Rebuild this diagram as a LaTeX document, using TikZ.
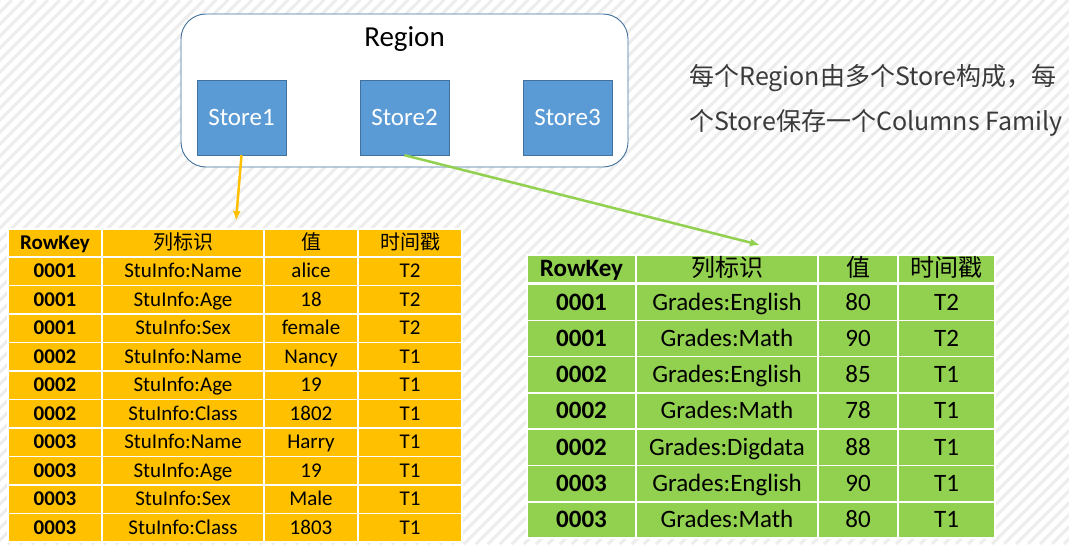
\documentclass[tikz,border=0pt]{standalone}
\usepackage{fontspec}
\setmainfont{Carlito}
\newfontfamily\cjk{Noto Sans CJK SC}
\usepackage{tikz}
\usetikzlibrary{positioning,arrows.meta}
\definecolor{gold}{HTML}{FFC000}
\definecolor{leaf}{HTML}{92D050}
\definecolor{steel}{HTML}{5B9BD5}
\definecolor{steeledge}{HTML}{41719C}
\definecolor{hatch}{HTML}{EDEDED}
\definecolor{note}{HTML}{3A3A3A}
\newcommand{\fs}[1]{\fontsize{#1}{#1}\selectfont}

\begin{document}
\begin{tikzpicture}[x=1pt,y=-1pt]
\tikzstyle{store}=[rectangle, minimum width=89pt, minimum height=75pt, draw=steeledge, fill=steel, text=white, font=\fs{25}]
\tikzstyle{region}=[rectangle, rounded corners=25pt, minimum width=447pt, minimum height=153pt, draw=steeledge, line width=0.9pt, fill=white]
\tikzstyle{cella}=[rectangle, draw=white, line width=1.5pt, fill=gold, inner sep=0pt, minimum height=28.5pt, text height=14.5pt, text depth=1.3pt, font=\fs{21}]
\tikzstyle{cellb}=[rectangle, draw=white, line width=1.5pt, fill=leaf, inner sep=0pt, minimum height=36.3pt, text height=17.3pt, text depth=1.5pt, font=\fs{25}]
\tikzstyle{connect}=[-{Latex[length=10pt,width=8pt]}, line width=2.5pt]
\useasboundingbox (0,0) rectangle (1069,544);
\begin{scope}
\clip (0,0) rectangle (1069,544);
\fill[white] (0,0) rectangle (1069,544);
\foreach \k in {0,12,...,1620}
  \draw[hatch, line width=3pt] (\k,0) -- (\k-544,544);
\end{scope}

\node[region] (region) at (404.5,90.5) {};
\node[font=\fs{29}] (regiontitle) at (404.5,39) {Region};
\node[store] (store1) at (241.5,117.5) {Store1};
\node[store] (store2) at (404.5,117.5) {Store2};
\node[store] (store3) at (567.5,117.5) {Store3};

\node[anchor=west, text=note, font=\cjk\fs{25}] (note1) at (686,78) {每个Region由多个Store构成，每};
\node[anchor=west, text=note, font=\cjk\fs{25}] (note2) at (686,123) {个Store保存一个Columns Family};

% left table (StuInfo)
\node[cella, minimum width=94pt, minimum height=28pt, font=\fs{21}\bfseries] (a01) at (55,243) {RowKey};
\node[cella, minimum width=162pt, minimum height=28pt, font=\cjk\fs{20}] (a02) at (183,243) {列标识};
\node[cella, minimum width=94pt, minimum height=28pt, font=\cjk\fs{20}] (a03) at (311,243) {值};
\node[cella, minimum width=104pt, minimum height=28pt, font=\cjk\fs{20}] (a04) at (410,243) {时间戳};
\foreach \key/\col/\val/\ts [count=\r] in {0001/StuInfo:Name/alice/T2, 0001/StuInfo:Age/18/T2, 0001/StuInfo:Sex/female/T2, 0002/StuInfo:Name/Nancy/T1, 0002/StuInfo:Age/19/T1, 0002/StuInfo:Class/1802/T1, 0003/StuInfo:Name/Harry/T1, 0003/StuInfo:Age/19/T1, 0003/StuInfo:Sex/Male/T1, 0003/StuInfo:Class/1803/T1}{
  \node[cella, minimum width=94pt, font=\fs{21}\bfseries] (a\r1) at (55,{242.75+28.5*\r}) {\key};
  \node[cella, minimum width=162pt] (a\r2) at (183,{242.75+28.5*\r}) {\col};
  \node[cella, minimum width=94pt] (a\r3) at (311,{242.75+28.5*\r}) {\val};
  \node[cella, minimum width=104pt] (a\r4) at (410,{242.75+28.5*\r}) {\ts};
}

% right table (Grades)
\node[cellb, minimum width=109pt, minimum height=28pt, font=\fs{25}\bfseries] (b01) at (581.5,269) {RowKey};
\node[cellb, minimum width=182pt, minimum height=28pt, font=\cjk\fs{24}] (b02) at (727,269) {列标识};
\node[cellb, minimum width=80pt, minimum height=28pt, font=\cjk\fs{24}] (b03) at (858,269) {值};
\node[cellb, minimum width=97pt, minimum height=28pt, font=\cjk\fs{24}] (b04) at (946.5,269) {时间戳};
\foreach \key/\col/\val/\ts [count=\r] in {0001/Grades:English/80/T2, 0001/Grades:Math/90/T2, 0002/Grades:English/85/T1, 0002/Grades:Math/78/T1, 0002/Grades:Digdata/88/T1, 0003/Grades:English/90/T1, 0003/Grades:Math/80/T1}{
  \node[cellb, minimum width=109pt, font=\fs{25}\bfseries] (b\r1) at (581.5,{265.85+36.3*\r}) {\key};
  \node[cellb, minimum width=182pt] (b\r2) at (727,{265.85+36.3*\r}) {\col};
  \node[cellb, minimum width=80pt] (b\r3) at (858,{265.85+36.3*\r}) {\val};
  \node[cellb, minimum width=97pt] (b\r4) at (946.5,{265.85+36.3*\r}) {\ts};
}

\coordinate (goldtip) at (236,221);
\coordinate (leaftip) at (760,245);
\draw[connect, gold] (store1.south) -- (goldtip);
\draw[connect, leaf] (store2.south) -- (leaftip);
\end{tikzpicture}
\end{document}
